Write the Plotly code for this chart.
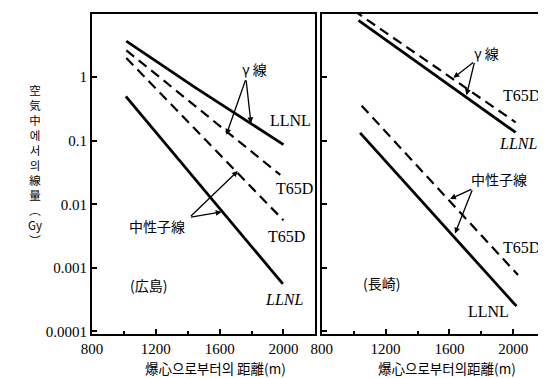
import plotly.graph_objects as go

# ---------------- data ----------------
# Hiroshima (left panel)
hiro_gamma_llnl_x = [1015, 1450, 2000]
hiro_gamma_llnl_y = [3.7, 0.68, 0.087]
hiro_gamma_t65d_x = [1015, 1980]
hiro_gamma_t65d_y = [2.65, 0.029]
hiro_neut_t65d_x = [1015, 2000]
hiro_neut_t65d_y = [2.0, 0.0056]
hiro_neut_llnl_x = [1012, 1996]
hiro_neut_llnl_y = [0.50, 0.00056]

# Nagasaki (right panel)
naga_gamma_t65d_x = [1000, 2015]
naga_gamma_t65d_y = [11.2, 0.195]
naga_gamma_llnl_x = [1030, 2015]
naga_gamma_llnl_y = [7.8, 0.135]
naga_neut_t65d_x = [1050, 2030]
naga_neut_t65d_y = [0.355, 0.00077]
naga_neut_llnl_x = [1040, 2020]
naga_neut_llnl_y = [0.133, 0.00025]

x_tickvals = [800, 1200, 1600, 2000]
x_minorvals = [1000, 1400, 1800]
y_tickvals = [0.0001, 0.001, 0.01, 0.1, 1]
y_ticktext = ["0.0001", "0.001", "0.01", "0.1", "1"]

SERIF = "Liberation Serif, Noto Sans CJK JP"
CJK = "Noto Sans CJK JP, Liberation Serif"

fig = go.Figure()

def line(x, y, dashed, xa, ya):
    fig.add_trace(go.Scatter(
        x=x, y=y, mode="lines", xaxis=xa, yaxis=ya, showlegend=False,
        line=dict(color="black", width=2.2 if dashed else 2.8,
                  dash="10px,6px" if dashed else "solid")))

line(hiro_gamma_llnl_x, hiro_gamma_llnl_y, False, "x", "y")
line(hiro_gamma_t65d_x, hiro_gamma_t65d_y, True, "x", "y")
line(hiro_neut_t65d_x, hiro_neut_t65d_y, True, "x", "y")
line(hiro_neut_llnl_x, hiro_neut_llnl_y, False, "x", "y")
line(naga_gamma_t65d_x, naga_gamma_t65d_y, True, "x2", "y2")
line(naga_gamma_llnl_x, naga_gamma_llnl_y, False, "x2", "y2")
line(naga_neut_t65d_x, naga_neut_t65d_y, True, "x2", "y2")
line(naga_neut_llnl_x, naga_neut_llnl_y, False, "x2", "y2")

W, H = 546, 378
xaxis_common = dict(
    range=[800, 2200], tickmode="array", tickvals=x_tickvals,
    ticks="inside", ticklen=5, tickwidth=1.5, tickcolor="black",
    minor=dict(tickmode="array", tickvals=x_minorvals, ticks="inside",
               ticklen=3, tickwidth=1.5, tickcolor="black"),
    showline=True, linewidth=2, linecolor="black", mirror=True,
    showgrid=False, zeroline=False,
    tickfont=dict(family=SERIF, size=15, color="black"),
)
yaxis_common = dict(
    type="log", range=[-4.045, 0.995], tickmode="array",
    tickvals=y_tickvals, ticktext=y_ticktext,
    ticks="inside", ticklen=5, tickwidth=1.5, tickcolor="black",
    showline=True, linewidth=2, linecolor="black", mirror=True,
    showgrid=False, zeroline=False,
    tickfont=dict(family=SERIF, size=15, color="black"),
    domain=[1 - 330.7 / H, 1 - 6 / H],
)

fig.update_layout(
    width=W, height=H, margin=dict(l=0, r=0, t=0, b=0),
    paper_bgcolor="white", plot_bgcolor="white",
    xaxis=dict(xaxis_common, domain=[74.5 / W, 302.5 / W], anchor="y"),
    xaxis2=dict(xaxis_common, domain=[309 / W, 537 / W], anchor="y2"),
    yaxis=dict(yaxis_common, anchor="x"),
    yaxis2=dict(yaxis_common, anchor="x2", showticklabels=False),
)

ann = []

def label(text, x, ylog, xr, yr, size=16, family=SERIF, italic=False):
    t = f"<i>{text}</i>" if italic else text
    ann.append(dict(text=t, x=x, y=ylog, xref=xr, yref=yr, showarrow=False,
                    font=dict(family=family, size=size, color="black"),
                    xanchor="center", yanchor="middle"))

def arrow(hx, hy, tx, ty, xr, yr):
    ann.append(dict(text="", x=hx, y=hy, ax=tx, ay=ty, xref=xr, yref=yr,
                    axref=xr, ayref=yr, showarrow=True, arrowhead=2,
                    arrowsize=0.9, arrowwidth=1.3, arrowcolor="black", standoff=0))

# left panel (Hiroshima)
label("γ 線", 1816, 0.124, "x", "y", size=14, family=CJK)
arrow(1642, -0.905, 1765, -0.026, "x", "y")
arrow(1796, -0.725, 1765, -0.026, "x", "y")
label("LLNL", 2041, -0.683, "x", "y")
label("T65D", 2068, -1.755, "x", "y")
label("T65D", 2020, -2.51, "x", "y")
label("中性子線", 1208, -2.345, "x", "y", size=14, family=CJK)
arrow(1714, -1.475, 1411, -2.205, "x", "y")
arrow(1612, -2.12, 1411, -2.205, "x", "y")
label("(広島)", 1153, -3.276, "x", "y", size=14, family=CJK)
label("LLNL", 2005, -3.494, "x", "y", italic=True)

# right panel (Nagasaki)
label("γ 線", 1835, 0.388, "x2", "y2", size=14, family=CJK)
arrow(1625, -0.011, 1758, 0.248, "x2", "y2")
arrow(1707, -0.284, 1758, 0.248, "x2", "y2")
label("T65D", 2052, -0.295, "x2", "y2")
label("LLNL", 2030, -1.048, "x2", "y2", italic=True)
label("中性子線", 1911, -1.6, "x2", "y2", size=14, family=CJK)
arrow(1604, -1.915, 1746, -1.755, "x2", "y2")
arrow(1635, -2.458, 1746, -1.755, "x2", "y2")
label("T65D", 2052, -2.686, "x2", "y2")
label("(長崎)", 1175, -3.23, "x2", "y2", size=14, family=CJK)
label("LLNL", 1844, -3.688, "x2", "y2")

# axis titles
ann.append(dict(text="爆心으로부터의 距離(m)", x=200.7 / W, y=1 - 365 / H,
                xref="paper", yref="paper", showarrow=False,
                font=dict(family=CJK, size=13.5, color="black"),
                xanchor="center", yanchor="middle"))
ann.append(dict(text="爆心으로부터의距離(m)", x=437 / W, y=1 - 365 / H,
                xref="paper", yref="paper", showarrow=False,
                font=dict(family=CJK, size=13.5, color="black"),
                xanchor="center", yanchor="middle"))

# vertical y-axis title, one glyph per row
ytitle = "<br>".join(["空", "気", "中", "에", "서", "의", "線", "量", "︵", "Gy", "︶"])
ann.append(dict(text=ytitle, x=16 / W, y=1 - 159 / H, xref="paper", yref="paper",
                showarrow=False, font=dict(family=CJK, size=11.5, color="black"),
                xanchor="center", yanchor="middle", borderpad=0))

fig.update_layout(annotations=ann)
fig.write_html("out.html")
